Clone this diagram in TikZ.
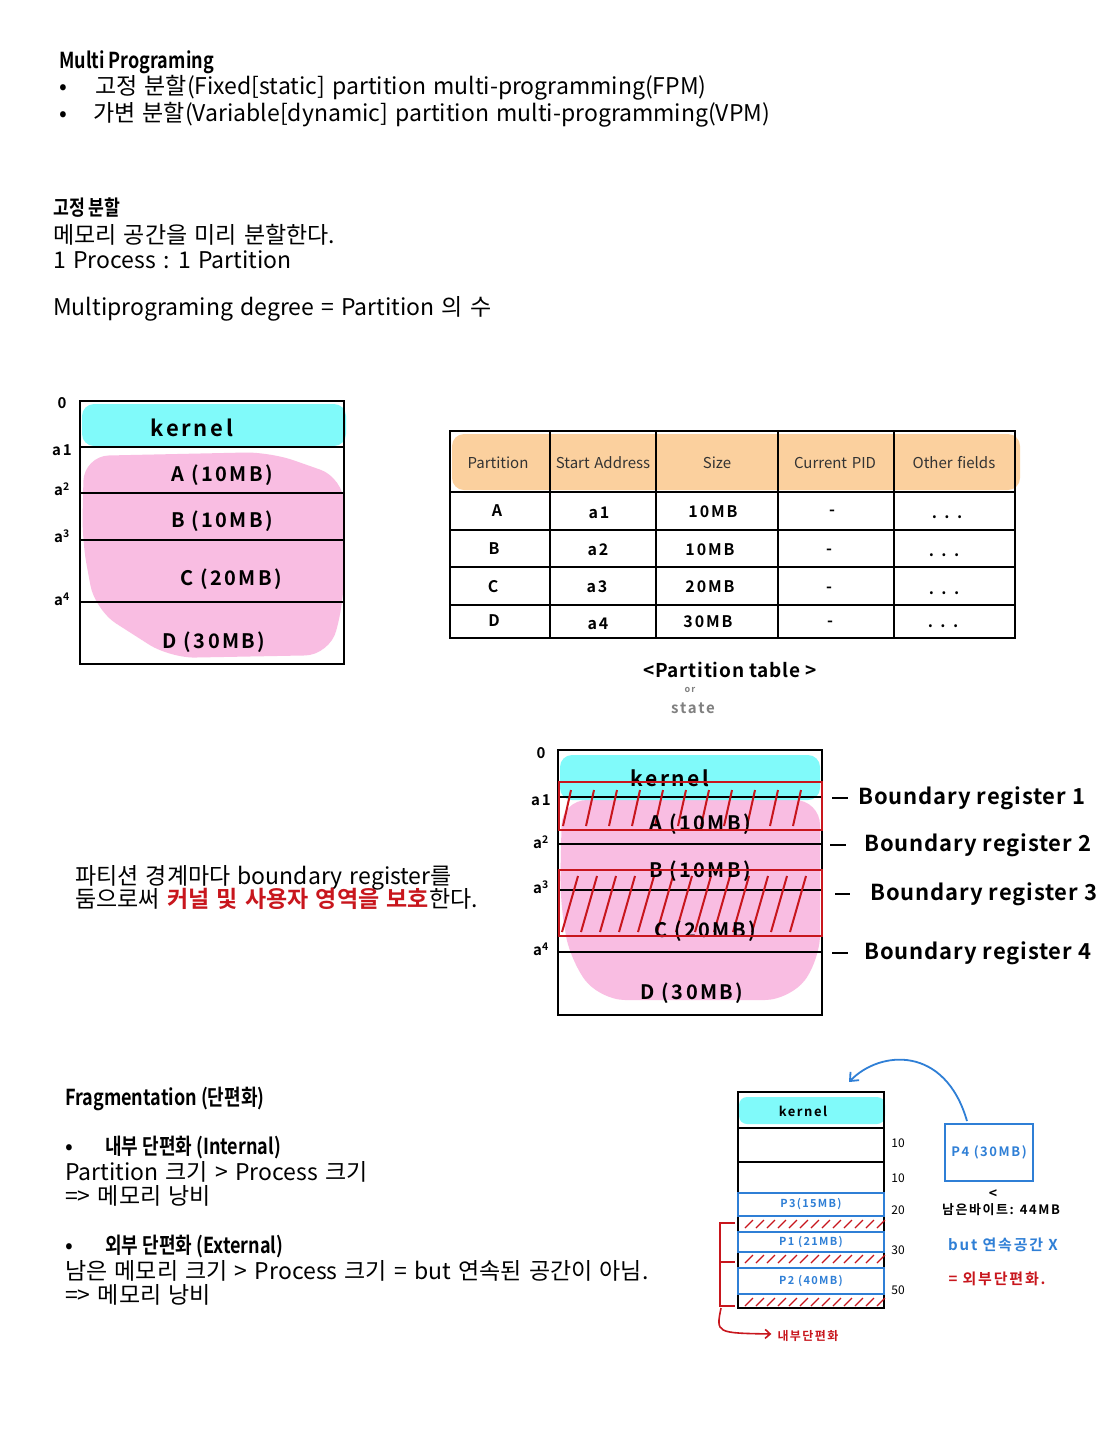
\documentclass[tikz,border=0pt]{standalone}
\usepackage{fontspec}
\setmainfont{Noto Sans CJK KR}[BoldFont={Noto Sans CJK KR Bold}, WordSpace=1.4]
\newfontfamily\condb{Noto Sans CJK KR Bold}[FakeStretch=0.82]
\newfontfamily\hand{Noto Sans CJK KR Bold}[LetterSpace=12]
\newfontfamily\handb{Noto Sans CJK KR Bold}[LetterSpace=4]
\usetikzlibrary{arrows.meta}
\definecolor{kcyan}{HTML}{80FAFA}
\definecolor{kpink}{HTML}{F9BDE2}
\definecolor{korange}{HTML}{FBD09E}
\definecolor{kred}{HTML}{C8161D}
\definecolor{kblue}{HTML}{2F7FD6}
\definecolor{kgray}{HTML}{808080}
\tikzset{
  t/.style={anchor=base west, inner sep=0pt, yshift=-0.37*#1, font=\fontsize{#1}{#1}\selectfont},
  t/.default=23,
  hd/.style={anchor=base west, inner sep=0pt, yshift=-0.37*#1, font=\fontsize{#1}{#1}\condb},
  hd/.default=22,
  hw/.style={anchor=base, inner sep=0pt, yshift=-0.37*#1, font=\fontsize{#1}{#1}\hand},
  hw/.default=19,
  hwb/.style={anchor=base, inner sep=0pt, yshift=-0.37*#1, font=\fontsize{#1}{#1}\handb},
  hwl/.style={anchor=base west, inner sep=0pt, yshift=-0.37*#1, font=\fontsize{#1}{#1}\handb},
  nt/.style={anchor=base, inner sep=0pt, yshift=-0.37*#1, font=\fontsize{#1}{#1}\selectfont},
  memline/.style={line width=2.5pt},
  pbox/.style={draw=kblue, line width=1.6pt, inner sep=0pt, text=kblue, font=\fontsize{11}{11}\hand},
}
\begin{document}
\begin{tikzpicture}[x=1pt,y=-1pt]
\useasboundingbox[fill=white] (0,0) rectangle (1113,1440);

% ---------- top text ----------
\node[hd] (h1) at (59,60) {Multi Programing};
\node[t] (b1) at (59,86) {•};
\node[t] (l1) at (95,86) {고정 분할(Fixed[static] partition multi-programming(FPM)};
\node[t] (b2) at (59,113) {•};
\node[t] (l2) at (93,113) {가변 분할(Variable[dynamic] partition multi-programming(VPM)};

\node[hd=21] (h2) at (53,208) {고정 분할};
\node[t] (l3) at (53,235) {메모리 공간을 미리 분할한다.};
\node[t] (l4) at (53,260) {1 Process : 1 Partition};
\node[t] (l5) at (53,307) {Multiprograming degree = Partition 의 수};

% ---------- memory diagram 1 ----------
\fill[kpink, rounded corners=25] (84,456) -- (270,452) -- (344,478) -- (344,600) -- (330,655) -- (170,658) -- (95,610) -- (82,540) -- cycle;
\fill[kcyan, rounded corners=12] (82,404) rectangle (346,446);
\draw[memline] (80,401) rectangle (344,664);
\draw[memline] (80,447) -- (344,447);
\draw[memline] (80,493) -- (344,493);
\draw[memline] (80,540) -- (344,540);
\draw[memline] (80,602) -- (344,602);
\node[hw=15] (m0) at (62,403) {0};
\node[hw=15] (ma1) at (62,450) {a1};
\node[hw=15] (ma2) at (62,490) {a\textsuperscript{2}};
\node[hw=15] (ma3) at (62,537) {a\textsuperscript{3}};
\node[hw=15] (ma4) at (62,600) {a\textsuperscript{4}};
\node[hw=22] (mk) at (192,428) {kernel};
\node[hw=20] (mA) at (222,474) {A (10MB)};
\node[hw=20] (mB) at (222,520) {B (10MB)};
\node[hw=20] (mC) at (231,578) {C (20MB)};
\node[hw=20] (mD) at (214,641) {D (30MB)};

% ---------- partition table ----------
\fill[korange, rounded corners=12] (452,434) rectangle (1020,490);
\draw[memline] (450,431) rectangle (1015,638);
\foreach \yy in {492,530,567,605} \draw[memline] (450,\yy) -- (1015,\yy);
\foreach \xx in {550,656,778,894} \draw[memline] (\xx,431) -- (\xx,638);
\node[nt=15, text=black!80] (th1) at (498,463) {Partition};
\node[nt=15, text=black!80] (th2) at (603,463) {Start Address};
\node[nt=15, text=black!80] (th3) at (717,463) {Size};
\node[nt=15, text=black!80] (th4) at (835,463) {Current PID};
\node[nt=15, text=black!80] (th5) at (954,463) {Other fields};
\node[hw=16] (rA1) at (497,511) {A};
\node[hw=16] (rA2) at (599,513) {a1};
\node[hw=16] (rA3) at (713,512) {10MB};
\node[hw=16] (rA4) at (832,510) {-};
\node[hw=16] (rA5) at (947,513) {. . .};
\node[hw=16] (rB1) at (494,549) {B};
\node[hw=16] (rB2) at (598,550) {a2};
\node[hw=16] (rB3) at (710,550) {10MB};
\node[hw=16] (rB4) at (829,549) {-};
\node[hw=16] (rB5) at (944,551) {. . .};
\node[hw=16] (rC1) at (493,587) {C};
\node[hw=16] (rC2) at (597,587) {a3};
\node[hw=16] (rC3) at (710,587) {20MB};
\node[hw=16] (rC4) at (829,587) {-};
\node[hw=16] (rC5) at (944,589) {. . .};
\node[hw=16] (rD1) at (494,621) {D};
\node[hw=16] (rD2) at (598,624) {a4};
\node[hw=16] (rD3) at (708,622) {30MB};
\node[hw=16] (rD4) at (830,621) {-};
\node[hw=16] (rD5) at (943,622) {. . .};
\node[hwb=19] (cap) at (730,670) {<Partition table >};
\node[hw=9, text=kgray] (cor) at (690,689) {or};
\node[hw=15, text=kgray] (cst) at (693,708) {state};

% ---------- memory diagram 2 ----------
\fill[kpink, rounded corners=25] (562,800) -- (820,800) -- (820,960) -- (790,1000) -- (600,1000) -- (570,960) -- (560,900) -- cycle;
\fill[kcyan, rounded corners=12] (560,755) rectangle (820,800);
\draw[memline] (558,750) rectangle (822,1015);
\draw[memline] (558,797) -- (822,797);
\draw[memline] (558,844) -- (822,844);
\draw[memline] (558,890) -- (822,890);
\draw[memline] (558,952) -- (822,952);
\begin{scope}
\clip (558,782) rectangle (822,830);
\foreach \xx in {563,586,...,810} \draw[kred, line width=2pt] (\xx,826) -- (\xx+8,790);
\end{scope}
\begin{scope}
\clip (558,870) rectangle (822,935);
\foreach \xx in {562,581,...,805} \draw[kred, line width=2pt] (\xx,932) -- (\xx+16,876);
\end{scope}
\node[hw=21] (nk) at (670,779) {kernel};
\node[hw=20] (nA) at (700,823) {A (10MB)};
\node[hw=20] (nB) at (700,870) {B (10MB)};
\node[hw=20] (nC) at (705,930) {C (20MB)};
\node[hw=20] (nD) at (692,992) {D (30MB)};
\draw[kred, line width=2.5pt] (559,782) rectangle (822,830);
\draw[kred, line width=2.5pt] (559,870) rectangle (822,936);
\node[hw=15] (n0) at (541,753) {0};
\node[hw=15] (na1) at (541,800) {a1};
\node[hw=15] (na2) at (541,843) {a\textsuperscript{2}};
\node[hw=15] (na3) at (541,888) {a\textsuperscript{3}};
\node[hw=15] (na4) at (541,950) {a\textsuperscript{4}};
\node[hwl=22] (r1) at (858,796) {Boundary register 1};
\node[hwl=22] (r2) at (864,843) {Boundary register 2};
\node[hwl=22] (r3) at (870,892) {Boundary register 3};
\node[hwl=22] (r4) at (864,951) {Boundary register 4};
\draw[line width=2.5pt] ([xshift=-26]r1.west) -- ([xshift=-10]r1.west);
\draw[line width=2.5pt] ([xshift=-34]r2.west) -- ([xshift=-18]r2.west);
\draw[line width=2.5pt] ([xshift=-35]r3.west) -- ([xshift=-20]r3.west);
\draw[line width=2.5pt] ([xshift=-32]r4.west) -- ([xshift=-16]r4.west);

\node[t] (p1) at (75,876) {파티션 경계마다 boundary register를};
\node[t] (p2) at (75,899) {둠으로써 {\color{kred}\bfseries 커널 및 사용자 영역을 보호}한다.};

% ---------- fragmentation text ----------
\node[hd] (f0) at (65,1097) {Fragmentation (단편화)};
\node[t] (fb1) at (65,1146) {•};
\node[hd] (f1) at (105,1146) {내부 단편화 (Internal)};
\node[t] (f2) at (65,1172) {Partition 크기 > Process 크기};
\node[t] (f3) at (65,1196) {=> 메모리 낭비};
\node[t] (fb2) at (65,1245) {•};
\node[hd] (f4) at (105,1245) {외부 단편화 (External)};
\node[t] (f5) at (65,1271) {남은 메모리 크기 > Process 크기 = but 연속된 공간이 아님.};
\node[t] (f6) at (65,1295) {=> 메모리 낭비};

% ---------- memory diagram 3 ----------
\fill[kcyan, rounded corners=8] (739,1097) rectangle (885,1124);
\draw[line width=1.6pt] (738,1092) rectangle (884,1308);
\draw[line width=1.6pt] (738,1128) -- (884,1128);
\draw[line width=1.6pt] (738,1162) -- (884,1162);
\foreach \ya in {1228,1263,1306}
  \foreach \xx in {745,756,...,878} \draw[kred, line width=1.3pt] (\xx,\ya) -- (\xx+8,\ya-8);
\node[pbox, minimum width=146, minimum height=23] (P3) at (811,1204.5) {P3(15MB)};
\node[pbox, minimum width=146, minimum height=20] (P1) at (811,1242) {P1 (21MB)};
\node[pbox, minimum width=146, minimum height=26] (P2) at (811,1281) {P2 (40MB)};
\node[hw=13] (k3) at (803,1112) {kernel};
\node[nt=12] (s1) at (898,1143) {10};
\node[nt=12] (s2) at (898,1178) {10};
\node[nt=12] (s3) at (898,1210) {20};
\node[nt=12] (s4) at (898,1250) {30};
\node[nt=12] (s5) at (898,1290) {50};
\node[pbox, minimum width=88, minimum height=57, font=\fontsize{13}{13}\hand] (P4) at (989,1152.5) {P4 (30MB)};
\node[hw=14] (lt) at (993,1193) {<};
\node[hw=13] (rem) at (1001,1210) {남은바이트: 44MB};
\node[hw=15, text=kblue] (but) at (1003,1245) {but 연속공간 X};
\node[hw=15, text=kred] (ext) at (997,1279) {= 외부단편화.};
\coordinate (arrS) at (967,1121);
\coordinate (arrE) at (849,1082);
\draw[kblue, line width=1.8pt, -{Straight Barb[length=7pt, width=12pt]}] (arrS) .. controls (945,1045) and (880,1050) .. (arrE);
\coordinate (bt) at (735,1223);
\coordinate (bm) at (735,1262);
\coordinate (bb) at (735,1306);
\draw[kred, line width=1.6pt] (bt) -- (720,1223) -- (720,1306) -- (bb);
\draw[kred, line width=1.6pt] (720,1262) -- (bm);
\node[hw=12, text=kred] (inf) at (808,1336) {내부단편화};
\coordinate (bs) at (721,1308);
\draw[kred, line width=1.6pt, -{Straight Barb[length=5pt, width=9pt]}] (bs) .. controls (716,1333) .. ([xshift=-6]inf.west |- 0,1334);
\end{tikzpicture}
\end{document}
